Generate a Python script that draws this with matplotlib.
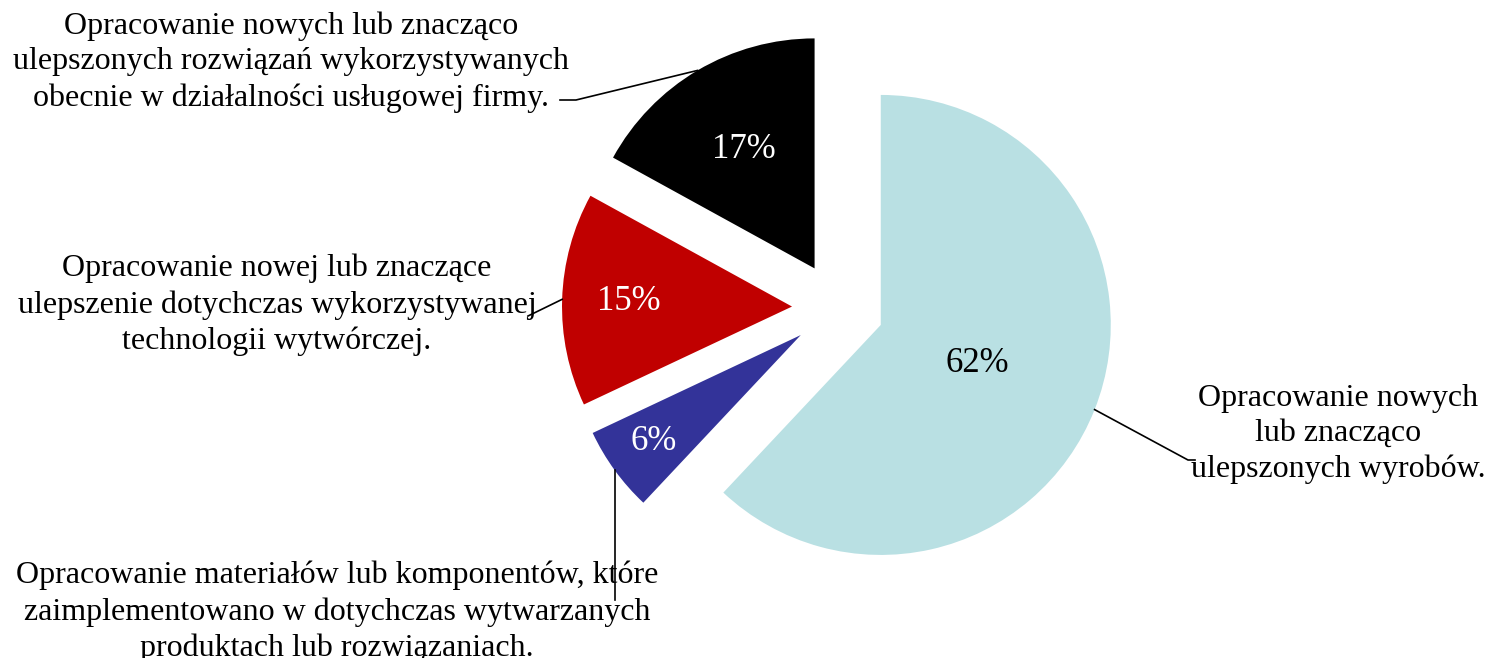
import numpy as np
import matplotlib
matplotlib.use("Agg")
import matplotlib.pyplot as plt

plt.rcParams['font.family'] = ['Liberation Serif', 'DejaVu Serif']

# data
shares = [62, 6, 15, 17]
pct_labels = ['62%', '6%', '15%', '17%']
names = [
    'Opracowanie nowych\nlub znacząco\nulepszonych wyrobów.',
    'Opracowanie materiałów lub komponentów, które\nzaimplementowano w dotychczas wytwarzanych\nproduktach lub rozwiązaniach.',
    'Opracowanie nowej lub znaczące\nulepszenie dotychczas wykorzystywanej\ntechnologii wytwórczej.',
    'Opracowanie nowych lub znacząco\nulepszonych rozwiązań wykorzystywanych\nobecnie w działalności usługowej firmy.',
]
colors = ['#B9E0E3', '#333399', '#C00000', '#000000']
pct_colors = ['black', 'white', 'white', 'white']

# layout (pixels: 1 unit = 230 px, pie centre at 838, 308)
W, H = 1487, 658
R = 230.0
cx, cy = 838, 308
explode = 0.2
pct_dist = [0.45, 0.79, 0.71, 0.6]
label_xy = [(1338, 434), (337, 612), (277, 305), (291, 62)]
elbows = [[(1188, 460), (1195, 460)],
          [None, (None, 600)],
          [(528, 316)],
          [(576, 100), (560, 100)]]

def px(x, y):
    return ((x - cx) / R, (cy - y) / R)

fig = plt.figure(figsize=(W / 100, H / 100), dpi=100)
ax = fig.add_axes([0, 0, 1, 1])

wedges, _ = ax.pie(shares, colors=colors, startangle=90, counterclock=False,
                   explode=[explode] * 4, radius=1.0)
ax.set_aspect('auto')
ax.set_xlim(-cx / R, (W - cx) / R)
ax.set_ylim((cy - H) / R, cy / R)
ax.axis('off')

for i, w in enumerate(wedges):
    mid = np.deg2rad((w.theta1 + w.theta2) / 2)
    tx, ty = w.center
    ax.text(tx + pct_dist[i] * np.cos(mid), ty + pct_dist[i] * np.sin(mid),
            pct_labels[i], color=pct_colors[i], fontsize=25,
            ha='center', va='center')

    # label text
    lx, ly = px(*label_xy[i])
    ax.text(lx, ly, names[i], fontsize=23, ha='center', va='center',
            multialignment='center', linespacing=1.3)

    # leader line from outer edge of the wedge
    ax0 = tx + np.cos(mid)
    ay0 = ty + np.sin(mid)
    xs, ys = [ax0], [ay0]
    for e in elbows[i]:
        if e is None:
            continue
        ex, ey = e
        if ex is None:
            xs.append(ax0)
            ys.append(px(0, ey)[1])
        else:
            p = px(ex, ey)
            xs.append(p[0])
            ys.append(p[1])
    ax.plot(xs, ys, color='black', lw=1.2)

fig.savefig('out.png', dpi=100)
